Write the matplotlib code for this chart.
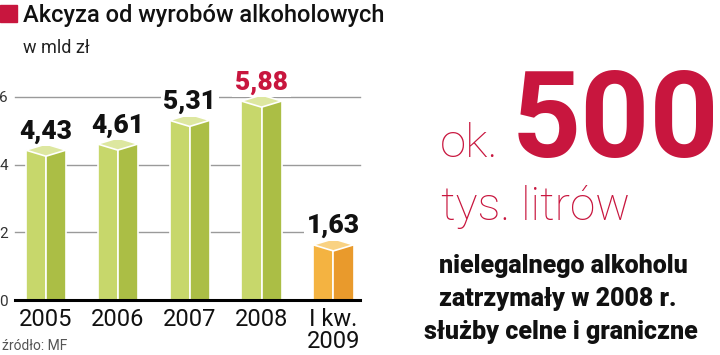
import numpy as np
import matplotlib
matplotlib.use('Agg')
from matplotlib import pyplot as plt
from matplotlib import font_manager
from matplotlib.patches import Polygon, Rectangle

# dane
kategorie = ['2005', '2006', '2007', '2008', 'I kw.\n2009']
wartosci = [4.43, 4.61, 5.31, 5.88, 1.63]
etykiety = ['4,43', '4,61', '5,31', '5,88', '1,63']
osY = [0, 2, 4, 6]

W, H = 720, 355
RED = '#c8163e'

names = {f.name for f in font_manager.fontManager.ttflist}
NARROW = 'Liberation Sans Narrow' if 'Liberation Sans Narrow' in names else 'Roboto'

def fx(x):
    return x / W

def fy(y):
    return 1 - y / H

fig = plt.figure(figsize=(7.2, 3.55), dpi=100)
ax = fig.add_axes([fx(15), fy(300), 345 / W, (300 - 97) / H])
ax.set_xlim(-0.43, 4.37)
ax.set_ylim(0, 6)

# siatka
for v in osY[1:]:
    ax.axhline(v, color='#9a9a9a', lw=1, zorder=0)
ax.axhline(0, color='black', lw=2.2, zorder=5)

w = 0.28   # pol szerokosci slupka
d = 0.18   # wysokosc "daszka"
for i, v in enumerate(wartosci):
    if i == 4:
        c_front, c_side, c_top = '#f4b341', '#e99a2c', '#f9d283'
    else:
        c_front, c_side, c_top = '#c7d76b', '#abbe45', '#dde7a0'
    ax.bar(i, v, width=-w, align='edge', color=c_front, edgecolor='white', lw=1.2, zorder=2)
    ax.bar(i, v, width=w, align='edge', color=c_side, edgecolor='white', lw=1.2, zorder=2)
    top = Polygon([[i - w, v], [i, v - d], [i + w, v], [i, v + d]], closed=True,
                  facecolor=c_top, edgecolor='white', lw=1.2, zorder=3, clip_on=False)
    ax.add_patch(top)
    kolor = RED if i == 3 else '#111111'
    ax.annotate(etykiety[i], (i, v + d), xytext=(0, 4), textcoords='offset points',
                ha='center', va='baseline', fontsize=19, fontweight='black', family=NARROW,
                color=kolor, zorder=6, annotation_clip=False,
                bbox=dict(boxstyle='square,pad=0.1', fc='white', ec='none'))

for s in ax.spines.values():
    s.set_visible(False)
ax.set_yticks(osY)
ax.set_yticklabels([str(v) for v in osY], fontsize=11, color='#333333', family=NARROW)
ax.set_xticks(range(len(kategorie)))
ax.set_xticklabels(kategorie, fontsize=17, color='#111111', family=NARROW, linespacing=0.95)
ax.tick_params(axis='both', length=0)
ax.tick_params(axis='y', pad=5)
ax.tick_params(axis='x', pad=6)
for obj in ax.get_children():
    try:
        obj.set_clip_on(False)
    except Exception:
        pass

# tytul
fig.patches.append(Rectangle((fx(0), fy(22)), 17 / W, 17 / H, transform=fig.transFigure,
                             color=RED, zorder=5))
fig.text(fx(23), fy(22), 'Akcyza od wyrobów alkoholowych', fontsize=17, family=NARROW,
         fontweight='medium', color='#111111', va='baseline', ha='left')
fig.text(fx(23), fy(53), 'w mld zł', fontsize=13, family=NARROW, color='#222222',
         va='baseline', ha='left')
fig.text(fx(2), fy(350), 'źródło: MF', fontsize=10, family=NARROW, color='#555555',
         va='baseline', ha='left')

# prawa strona
fig.text(fx(440), fy(157), 'ok.', fontsize=34, family='Roboto', fontweight='light',
         color=RED, va='baseline', ha='left')
fig.text(fx(512), fy(157), '500', fontsize=87, family='Roboto', fontweight='bold',
         color=RED, va='baseline', ha='left')
fig.text(fx(441), fy(220), 'tys. litrów', fontsize=33, family='Roboto', fontweight='light',
         color=RED, va='baseline', ha='left')
fig.text(fx(439), fy(273), 'nielegalnego alkoholu', fontsize=18, family=NARROW,
         fontweight='black', color='#111111', va='baseline', ha='left')
fig.text(fx(439), fy(306), 'zatrzymały w 2008 r.', fontsize=18, family=NARROW,
         fontweight='black', color='#111111', va='baseline', ha='left')
fig.text(fx(424), fy(339), 'służby celne i graniczne', fontsize=18, family=NARROW,
         fontweight='black', color='#111111', va='baseline', ha='left')

fig.savefig('out.png', dpi=100)
